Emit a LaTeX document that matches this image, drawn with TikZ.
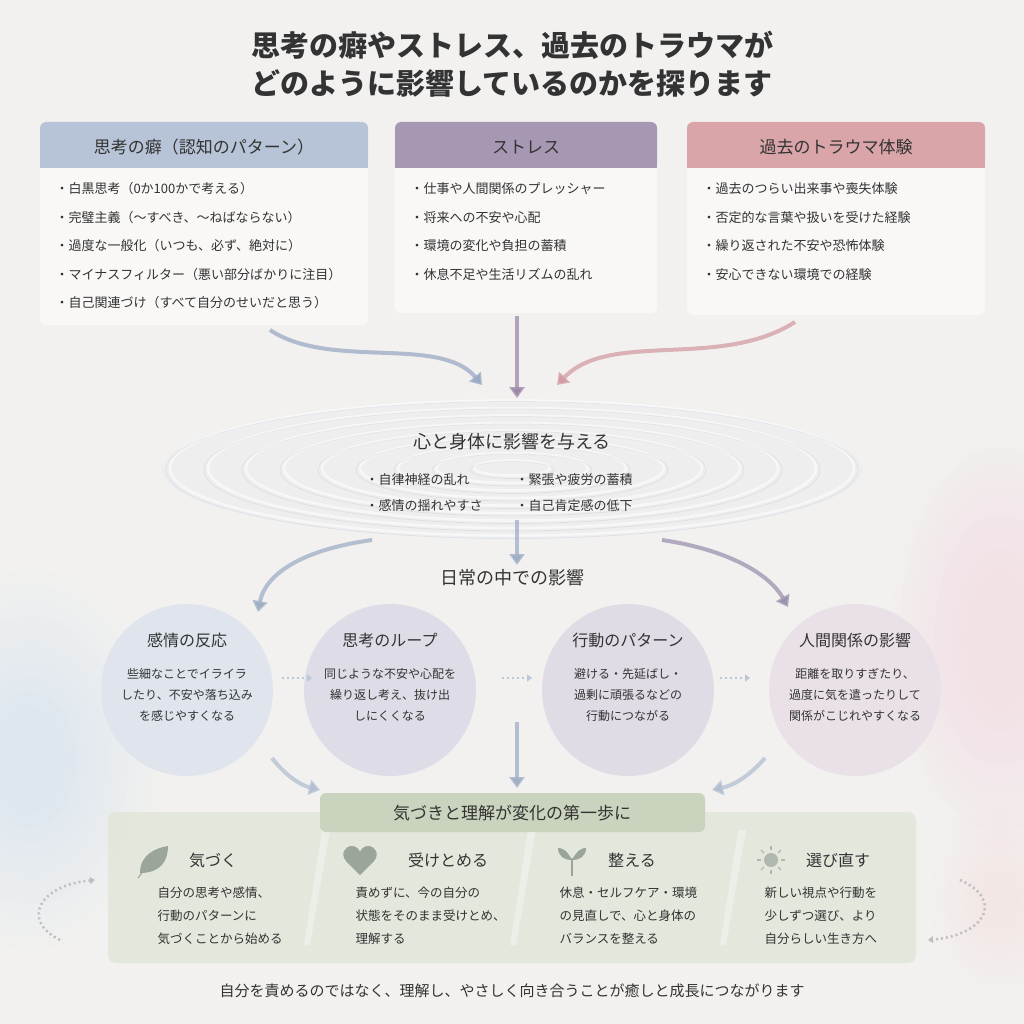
\documentclass[tikz,border=0pt]{standalone}
\usepackage{fontspec}
\setmainfont{Noto Sans CJK JP}
\usetikzlibrary{arrows.meta,calc}
\definecolor{bg}{HTML}{F2F1EF}
\definecolor{ink}{HTML}{333333}
\definecolor{hA}{HTML}{B7C3D6}
\definecolor{hB}{HTML}{A697B2}
\definecolor{hC}{HTML}{D9A5A9}
\definecolor{aA}{HTML}{9AA9C6}
\definecolor{aB}{HTML}{9E8AA8}
\definecolor{aC}{HTML}{D39CA2}
\definecolor{flow}{HTML}{9FAFC6}
\definecolor{gban}{HTML}{C9D3BE}
\definecolor{gpan}{HTML}{E2E7DA}
\definecolor{icon}{HTML}{9CA59A}
\tikzset{
 fs/.style={font=\fontsize{#1}{#1}\selectfont},
 tt/.style={text=ink,font=\fontsize{29}{29}\selectfont\bfseries},
 hd/.style={text=ink,fs=17},
 bl/.style={text=ink,fs=13,anchor=west},
 ct/.style={text=ink,fs=12,align=center},
 card/.style={fill=white,fill opacity=0.55,rounded corners=6pt},
 arr/.style={line width=4pt,-{Triangle[length=11pt,width=15pt]},draw opacity=0.75},
 dotarr/.style={draw=flow!70,line width=2pt,dash pattern=on 2pt off 3pt,-{Triangle[length=5pt,width=7pt]}},
 circ/.style={circle,minimum size=172pt,inner sep=0pt},
}
\begin{document}
\begin{tikzpicture}[x=1pt,y=-1pt]
\useasboundingbox (0,0) rectangle (1024,1024);
\fill[bg] (0,0) rectangle (1024,1024);
\foreach \s in {1.0,0.92,...,0.2} {
 \fill[blue!40!cyan,opacity=0.009] (30,760) ellipse ({130*\s} and {190*\s});
 \fill[magenta!60,opacity=0.008] (1000,640) ellipse ({110*\s} and {210*\s});
 \fill[orange!50,opacity=0.006] (1000,900) ellipse ({70*\s} and {100*\s});
}
% title
\node[tt] (t1) at (512,45) {思考の癖やストレス、過去のトラウマが};
\node[tt] (t2) at (512,83) {どのように影響しているのかを探ります};
% boxes
\fill[card] (40,122) rectangle (368,325);
\fill[hA,rounded corners=6pt] (40,122) rectangle (368,168);
\fill[hA] (40,155) rectangle (368,168);
\node[hd] (hA) at (204,147) {思考の癖（認知のパターン）};
\foreach \t [count=\i] in {・白黒思考（0か100かで考える）,・完璧主義（〜すべき、〜ねばならない）,・過度な一般化（いつも、必ず、絶対に）,・マイナスフィルター（悪い部分ばかりに注目）,・自己関連づけ（すべて自分のせいだと思う）}
 \node[bl] (a\i) at (52,189+28.5*\i-28.5) {\t};
\fill[card] (395,122) rectangle (657,313);
\fill[hB,rounded corners=6pt] (395,122) rectangle (657,168);
\fill[hB] (395,155) rectangle (657,168);
\node[hd] (hB) at (526,147) {ストレス};
\foreach \t [count=\i] in {・仕事や人間関係のプレッシャー,・将来への不安や心配,・環境の変化や負担の蓄積,・休息不足や生活リズムの乱れ}
 \node[bl] (b\i) at (407,189+28.5*\i-28.5) {\t};
\fill[card] (687,122) rectangle (985,315);
\fill[hC,rounded corners=6pt] (687,122) rectangle (985,168);
\fill[hC] (687,155) rectangle (985,168);
\node[hd] (hC) at (836,147) {過去のトラウマ体験};
\foreach \t [count=\i] in {・過去のつらい出来事や喪失体験,・否定的な言葉や扱いを受けた経験,・繰り返された不安や恐怖体験,・安心できない環境での経験}
 \node[bl] (c\i) at (699,189+28.5*\i-28.5) {\t};
% ripples
\fill[flow!25,opacity=0.35] (512,470) ellipse (350 and 68);
\foreach \r in {1,...,9}
 \draw[white,line width=2.5pt,opacity=0.55] (512,468) ellipse ({38*\r} and {7.5*\r});
\foreach \r in {1,...,9}
 \draw[flow!70,line width=0.8pt,opacity=0.35] (512,470) ellipse ({38*\r+4} and {7.5*\r+1});
\coordinate (sA) at (270,330); \coordinate (eA) at (482,385);
\coordinate (sB) at (517,316); \coordinate (eB) at (517,398);
\coordinate (sC) at (795,322); \coordinate (eC) at (557,385);
\draw[arr,draw=aA] (sA) .. controls (330,370) and (440,335) .. (eA);
\draw[arr,draw=aB] (sB) -- (eB);
\draw[arr,draw=aC] (sC) .. controls (720,370) and (610,330) .. (eC);
\node[hd,fs=18] (mid) at (512,442) {心と身体に影響を与える};
\node[bl] (m1) at (362,480) {・自律神経の乱れ};
\node[bl] (m2) at (512,480) {・緊張や疲労の蓄積};
\node[bl] (m3) at (362,506) {・感情の揺れやすさ};
\node[bl] (m4) at (512,506) {・自己肯定感の低下};
\coordinate (d0) at (517,520); \coordinate (d1) at (517,565);
\draw[arr,draw=flow] (d0) -- (d1);
\coordinate (l0) at (372,540); \coordinate (l1) at (258,612);
\coordinate (r0) at (662,540); \coordinate (r1) at (788,607);
\draw[arr,draw=flow] (l0) .. controls (300,550) and (265,575) .. (l1);
\draw[arr,draw=aB!80!flow] (r0) .. controls (730,550) and (770,575) .. (r1);
\node[hd,fs=18] (daily) at (512,578) {日常の中での影響};
% circles
\node[circ,fill=hA!45] (k1) at (187,690) {};
\node[circ,fill=hA!40!hB!40] (k2) at (390,690) {};
\node[circ,fill=hB!35] (k3) at (628,690) {};
\node[circ,fill=hC!30!hB!30] (k4) at (855,690) {};
\node[hd,fs=16] at (187,640) {感情の反応};
\node[ct] at (187,695) {些細なことでイライラ\\[9pt]したり、不安や落ち込み\\[9pt]を感じやすくなる};
\node[hd,fs=16] at (390,640) {思考のループ};
\node[ct] at (390,695) {同じような不安や心配を\\[9pt]繰り返し考え、抜け出\\[9pt]しにくくなる};
\node[hd,fs=16] at (628,640) {行動のパターン};
\node[ct] at (628,695) {避ける・先延ばし・\\[9pt]過剰に頑張るなどの\\[9pt]行動につながる};
\node[hd,fs=16] at (855,640) {人間関係の影響};
\node[ct] at (855,695) {距離を取りすぎたり、\\[9pt]過度に気を遣ったりして\\[9pt]関係がこじれやすくなる};
\coordinate (p1) at (282,678); \coordinate (q1) at (312,678);
\coordinate (p2) at (502,678); \coordinate (q2) at (532,678);
\coordinate (p3) at (720,678); \coordinate (q3) at (750,678);
\draw[dotarr] (p1) -- (q1); \draw[dotarr] (p2) -- (q2); \draw[dotarr] (p3) -- (q3);
% panel
\fill[gpan,rounded corners=8pt,opacity=0.9] (108,812) rectangle (916,963);
\foreach \x in {322,528,738} \fill[white,opacity=0.35] (\x,830) -- (\x+8,830) -- (\x-12,945) -- (\x-18,945) -- cycle;
\coordinate (g0) at (272,758); \coordinate (g1) at (320,790);
\coordinate (g2) at (517,722); \coordinate (g3) at (517,788);
\coordinate (g4) at (765,758); \coordinate (g5) at (712,790);
\draw[arr,draw=flow!80] (g0) .. controls (285,775) and (300,785) .. (g1);
\draw[arr,draw=flow] (g2) -- (g3);
\draw[arr,draw=flow!80] (g4) .. controls (750,775) and (735,785) .. (g5);
\fill[gban,rounded corners=6pt] (320,793) rectangle (705,832);
\node[hd] (ban) at (512,813) {気づきと理解が変化の第一歩に};
% icons
\fill[icon] (140,873) .. controls (140,855) and (155,848) .. (168,846) .. controls (168,862) and (160,872) .. (142,873) -- cycle;
\draw[icon,line width=1pt] (138,878) -- (150,862);
\fill[icon] (360,875) -- (346,861) .. controls (340,854) and (345,846) .. (352,846) .. controls (356,846) and (359,849) .. (360,852) .. controls (361,849) and (364,846) .. (368,846) .. controls (375,846) and (380,854) .. (374,861) -- cycle;
\draw[icon,line width=2pt] (572,876) -- (572,858);
\fill[icon] (572,860) .. controls (566,848) and (560,848) .. (558,848) .. controls (558,856) and (564,860) .. (572,860);
\fill[icon] (572,860) .. controls (578,848) and (584,848) .. (586,848) .. controls (586,856) and (580,860) .. (572,860);
\fill[icon!80] (771,860) circle (7);
\foreach \a in {0,45,...,315} \draw[icon!80,line width=1.2pt] ($(771,860)+(\a:10)$) -- ($(771,860)+(\a:14)$);
\node[hd,fs=16] at (213,860) {気づく};
\node[hd,fs=16] at (448,860) {受けとめる};
\node[hd,fs=16] at (632,860) {整える};
\node[hd,fs=16] at (838,860) {選び直す};
\tikzset{pt/.style={text=ink,fs=12.5,anchor=west}}
\node[pt] at (154,893) {自分の思考や感情、};
\node[pt] at (154,916) {行動のパターンに};
\node[pt] at (154,939) {気づくことから始める};
\node[pt] at (352,893) {責めずに、今の自分の};
\node[pt] at (352,916) {状態をそのまま受けとめ、};
\node[pt] at (352,939) {理解する};
\node[pt] at (556,893) {休息・セルフケア・環境};
\node[pt] at (556,916) {の見直しで、心と身体の};
\node[pt] at (556,939) {バランスを整える};
\node[pt] at (761,893) {新しい視点や行動を};
\node[pt] at (761,916) {少しずつ選び、より};
\node[pt] at (761,939) {自分らしい生き方へ};
% loops
\coordinate (lo1) at (60,940); \coordinate (lo2) at (95,880);
\draw[dotarr,draw=gray!50,line width=2.5pt] (lo1) .. controls (20,920) and (40,885) .. (lo2);
\coordinate (ro1) at (960,880); \coordinate (ro2) at (928,940);
\draw[dotarr,draw=gray!50,line width=2.5pt] (ro1) .. controls (1005,900) and (985,935) .. (ro2);
\node[text=ink,fs=15] (foot) at (512,991) {自分を責めるのではなく、理解し、やさしく向き合うことが癒しと成長につながります};
\end{tikzpicture}
\end{document}
